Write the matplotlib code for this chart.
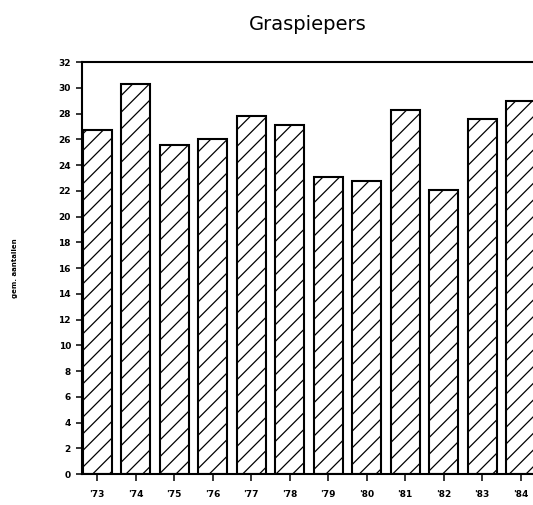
import matplotlib.pyplot as plt

# Graspiepers - gemiddelde aantallen per jaar
jaren = ["'73", "'74", "'75", "'76", "'77", "'78", "'79", "'80", "'81", "'82", "'83", "'84"]
aantallen = [26.7, 30.3, 25.6, 26.0, 27.8, 27.1, 23.1, 22.8, 28.3, 22.1, 27.6, 29.0]
yticks = list(range(0, 33, 2))

plt.rcParams['hatch.linewidth'] = 0.9
plt.rcParams['hatch.color'] = 'black'

fig = plt.figure(figsize=(5.33, 5.05), dpi=100)
ax = fig.add_axes([0.154, 0.061, 0.846, 0.816])

x = range(len(jaren))
ax.bar(x, aantallen, width=0.75, color='white', edgecolor='black',
       linewidth=1.5, hatch='//')

ax.set_xlim(-0.39, 11.32)
ax.set_ylim(0, 32)
ax.set_xticks(list(x))
ax.set_xticklabels(jaren, fontsize=6.5, fontweight='bold')
ax.set_yticks(yticks)
ax.set_yticklabels([str(t) for t in yticks], fontsize=6.5, fontweight='bold')
ax.tick_params(axis='y', direction='out', length=4.5, width=1.1, pad=3.5)
ax.tick_params(axis='x', direction='out', length=5, width=1.1, pad=6.5)

for s in ['left', 'bottom', 'top']:
    ax.spines[s].set_linewidth(1.5)
ax.spines['right'].set_visible(False)

ax.set_title('Graspiepers', fontsize=14,
             family=['Liberation Sans Narrow', 'DejaVu Sans'], pad=23)
ax.set_ylabel('gem. aantallen', fontsize=5, fontweight='bold', labelpad=29)

fig.savefig('out.png', dpi=100)
